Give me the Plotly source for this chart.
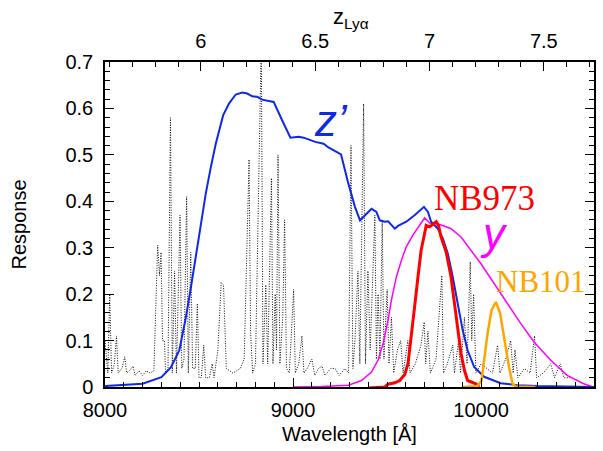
import plotly.graph_objects as go

LYA = 1215.67
X_MIN, X_MAX = 8000, 10600

# z' filter
lam_z = [8000, 8100, 8200, 8300, 8350, 8395, 8430, 8457, 8484, 8510, 8536, 8563, 8589, 8628,
         8660, 8695, 8730, 8756, 8783, 8809, 8836, 8871, 8897, 8941, 8986, 9030, 9056, 9118,
         9162, 9188, 9255, 9294, 9329, 9356, 9382, 9417, 9443, 9461, 9488, 9505, 9541, 9558,
         9602, 9646, 9696, 9717, 9734, 9770, 9796, 9823, 9849, 9875, 9902, 9928, 9963, 10016,
         10104, 10192, 10300, 10450, 10600]
resp_z = [0.002, 0.004, 0.007, 0.021, 0.042, 0.079, 0.150, 0.215, 0.287, 0.355, 0.417, 0.474,
          0.524, 0.585, 0.611, 0.630, 0.634, 0.632, 0.626, 0.625, 0.619, 0.616, 0.614, 0.575,
          0.537, 0.539, 0.537, 0.528, 0.524, 0.516, 0.501, 0.438, 0.388, 0.359, 0.370, 0.384,
          0.377, 0.359, 0.356, 0.357, 0.341, 0.347, 0.356, 0.370, 0.388, 0.377, 0.356, 0.341,
          0.320, 0.287, 0.237, 0.180, 0.122, 0.079, 0.043, 0.022, 0.008, 0.004, 0.002, 0.001, 0.0]

# y filter
lam_y = [9000, 9150, 9294, 9364, 9417, 9452, 9479, 9505, 9523, 9549, 9576, 9602, 9637, 9681,
         9699, 9730, 9760, 9796, 9840, 9893, 9946, 9998, 10069, 10139, 10210, 10281, 10369,
         10457, 10545, 10594]
resp_y = [0.0, 0.001, 0.004, 0.014, 0.032, 0.058, 0.094, 0.144, 0.187, 0.237, 0.273, 0.302,
          0.327, 0.352, 0.364, 0.352, 0.352, 0.348, 0.341, 0.323, 0.295, 0.266, 0.223, 0.180,
          0.137, 0.097, 0.058, 0.025, 0.007, 0.0]

# NB973
lam_nb973 = [9400, 9488, 9505, 9541, 9567, 9594, 9611, 9629, 9646, 9664, 9681, 9699, 9708,
             9726, 9740, 9761, 9773, 9787, 9814, 9840, 9858, 9875, 9893, 9911, 9928, 9972, 9990]
resp_nb973 = [-0.002, 0.0, 0.006, 0.009, 0.014, 0.027, 0.050, 0.108, 0.172, 0.237, 0.295,
              0.330, 0.348, 0.345, 0.350, 0.356, 0.348, 0.323, 0.291, 0.237, 0.180, 0.122,
              0.072, 0.036, 0.014, 0.007, 0.0]

# NB101
lam_nb101 = [9902, 9981, 10002, 10016, 10034, 10055, 10078, 10101, 10125, 10148, 10167, 10184, 10289]
resp_nb101 = [0.0, 0.002, 0.014, 0.058, 0.115, 0.165, 0.183, 0.158, 0.094, 0.043, 0.007, 0.001, 0.0]

# sky spectrum (dotted)
lam_sky = [8000, 8008, 8015, 8025, 8035, 8050, 8061, 8070, 8090, 8105, 8115, 8130, 8149, 8160,
           8180, 8200, 8220, 8240, 8260, 8280, 8290, 8298, 8306, 8316, 8322, 8335, 8348, 8358,
           8370, 8380, 8399, 8408, 8420, 8434, 8443, 8456, 8466, 8480, 8491, 8500, 8512, 8525,
           8535, 8555, 8570, 8580, 8600, 8618, 8630, 8645, 8680, 8700, 8720, 8740, 8766, 8774,
           8785, 8800, 8831, 8840, 8855, 8865, 8885, 8893, 8905, 8912, 8920, 8930, 8945, 8955,
           8965, 8980, 9003, 9012, 9030, 9047, 9058, 9075, 9100, 9115, 9135, 9153, 9170, 9200,
           9223, 9245, 9276, 9295, 9308, 9318, 9329, 9345, 9355, 9375, 9385, 9398, 9410, 9435,
           9443, 9452, 9462, 9474, 9483, 9500, 9510, 9523, 9535, 9555, 9572, 9585, 9610, 9622,
           9650, 9680, 9697, 9705, 9717, 9730, 9760, 9791, 9800, 9820, 9849, 9858, 9880, 9890,
           9911, 9925, 9942, 9950, 9960, 9972, 10000, 10030, 10060, 10087, 10100, 10130, 10157,
           10170, 10180, 10195, 10230, 10260, 10284, 10295, 10330, 10370, 10390, 10420, 10440, 10474]
flux_sky = [0.10, 0.06, 0.03, 0.20, 0.03, 0.05, 0.11, 0.03, 0.04, 0.065, 0.03, 0.035, 0.045, 0.025,
            0.035, 0.025, 0.035, 0.03, 0.035, 0.305, 0.24, 0.29, 0.10, 0.10, 0.03, 0.04, 0.58, 0.03,
            0.25, 0.03, 0.37, 0.04, 0.06, 0.41, 0.03, 0.29, 0.04, 0.04, 0.18, 0.02, 0.02, 0.09,
            0.02, 0.02, 0.05, 0.02, 0.08, 0.225, 0.22, 0.04, 0.03, 0.035, 0.04, 0.06, 0.49, 0.12,
            0.03, 0.05, 0.75, 0.05, 0.22, 0.05, 0.45, 0.05, 0.20, 0.08, 0.50, 0.05, 0.15, 0.36,
            0.04, 0.03, 0.21, 0.03, 0.05, 0.11, 0.03, 0.04, 0.06, 0.025, 0.04, 0.045, 0.025, 0.04,
            0.04, 0.025, 0.04, 0.03, 0.52, 0.04, 0.10, 0.25, 0.05, 0.61, 0.05, 0.25, 0.08, 0.37,
            0.06, 0.20, 0.06, 0.36, 0.06, 0.21, 0.05, 0.15, 0.03, 0.08, 0.10, 0.03, 0.10, 0.03,
            0.05, 0.09, 0.14, 0.05, 0.12, 0.03, 0.06, 0.24, 0.03, 0.05, 0.09, 0.03, 0.10, 0.03,
            0.15, 0.05, 0.27, 0.10, 0.20, 0.03, 0.05, 0.04, 0.03, 0.09, 0.03, 0.06, 0.10,
            0.03, 0.08, 0.02, 0.04, 0.03, 0.11, 0.02, 0.03, 0.05, 0.02, 0.05, 0.02, 0.02]

x_ticks = [8000, 9000, 10000]
y_ticks = [0, 0.1, 0.2, 0.3, 0.4, 0.5, 0.6, 0.7]
y_tick_labels = ["0", "0.1", "0.2", "0.3", "0.4", "0.5", "0.6", "0.7"]
z_ticks = [6, 6.5, 7, 7.5]
z_tick_labels = ["6", "6.5", "7", "7.5"]

BLUE = "#1028e8"
MAGENTA = "#ff00ff"
RED = "#ff0000"
ORANGE = "#ffa500"
FONT = "Liberation Sans"

fig = go.Figure()
fig.add_trace(go.Scatter(x=lam_sky, y=flux_sky, mode="lines",
                         line=dict(color="#111111", width=1, dash="1px,1.5px"), showlegend=False))
fig.add_trace(go.Scatter(x=lam_y, y=resp_y, mode="lines",
                         line=dict(color=MAGENTA, width=1.5), showlegend=False))
fig.add_trace(go.Scatter(x=lam_z, y=resp_z, mode="lines",
                         line=dict(color=BLUE, width=2), showlegend=False))
fig.add_trace(go.Scatter(x=lam_nb973, y=resp_nb973, mode="lines",
                         line=dict(color=RED, width=3), showlegend=False))
fig.add_trace(go.Scatter(x=lam_nb101, y=resp_nb101, mode="lines",
                         line=dict(color=ORANGE, width=2.5), showlegend=False))
# invisible helper trace to register the redshift axis
z_range = [X_MIN / LYA - 1, X_MAX / LYA - 1]
fig.add_trace(go.Scatter(x=z_range, y=[-1, -1], xaxis="x2", mode="lines",
                         line=dict(width=0), hoverinfo="skip", showlegend=False))

axis_common = dict(showgrid=False, zeroline=False, showline=True, linecolor="black",
                   linewidth=1.5, ticks="inside", tickcolor="black", tickwidth=1.2,
                   tickfont=dict(family=FONT, size=20, color="black"))

fig.update_layout(
    width=603, height=451,
    margin=dict(l=105, r=7, t=62, b=64),
    paper_bgcolor="white", plot_bgcolor="white",
    xaxis=dict(range=[X_MIN, X_MAX], tickvals=x_ticks, ticktext=[str(v) for v in x_ticks],
               ticklen=9, mirror=False, ticklabelstandoff=4,
               minor=dict(dtick=100, tick0=8000, ticklen=5, ticks="inside", tickcolor="black"),
               title=dict(text="Wavelength [Å]", font=dict(family=FONT, size=20, color="black"),
                          standoff=7),
               **axis_common),
    xaxis2=dict(range=z_range, overlaying="x", side="top", anchor="y",
                tickvals=z_ticks, ticktext=z_tick_labels, ticklen=9, ticklabelstandoff=4,
                minor=dict(dtick=0.1, tick0=0, ticklen=5, ticks="inside", tickcolor="black"),
                **axis_common),
    yaxis=dict(range=[0, 0.7], tickvals=y_ticks, ticktext=y_tick_labels, ticklen=9,
               mirror="ticks", ticklabelstandoff=6,
               minor=dict(dtick=0.02, tick0=0, ticklen=5, ticks="inside", tickcolor="black"),
               title=dict(text="Response", font=dict(family=FONT, size=20, color="black"),
                          standoff=33),
               **axis_common),
)

fig.add_annotation(x=0.503, y=1.085, xref="paper", yref="paper", text="z<sub>Lyα</sub>",
                   showarrow=False, font=dict(family=FONT, size=22, color="black"),
                   xanchor="center", yanchor="bottom")
fig.add_annotation(x=9204, y=0.575, text="<i>z’</i>", showarrow=False,
                   font=dict(family=FONT, size=44, color=BLUE))
fig.add_annotation(x=10070, y=0.33, text="<i>y</i>", showarrow=False,
                   font=dict(family=FONT, size=44, color=MAGENTA))
fig.add_annotation(x=10019, y=0.405, text="NB973", showarrow=False,
                   font=dict(family="Liberation Serif", size=35, color=RED))
fig.add_annotation(x=10319, y=0.228, text="NB101", showarrow=False,
                   font=dict(family="Liberation Serif", size=31, color=ORANGE))

fig.write_html("out.html")
